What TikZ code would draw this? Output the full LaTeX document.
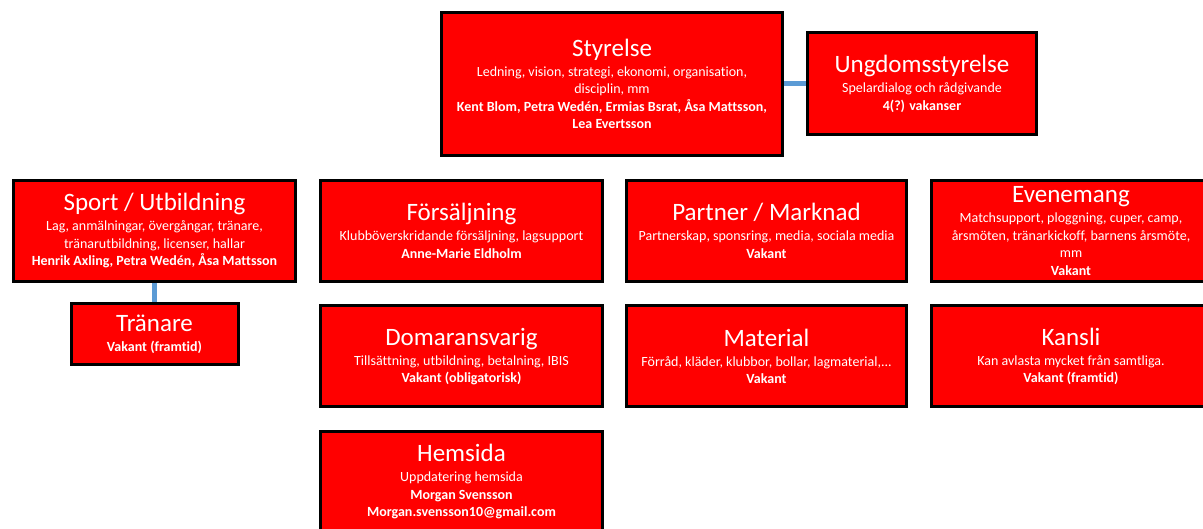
\documentclass[tikz,border=0pt]{standalone}
\usepackage{fontspec}
\setmainfont{Carlito}[Ligatures=NoCommon]
\usepackage{tikz}

\definecolor{boxred}{RGB}{255,0,0}
\definecolor{linkblue}{RGB}{91,155,213}
\newcommand{\rubrik}[1]{{\fontsize{25}{28}\selectfont #1}\\[2.5pt]}

\begin{document}
\begin{tikzpicture}[x=1pt, y=-1pt, every node/.style={rectangle, fill=boxred, draw=black, line width=3pt, text=white, align=center, inner sep=0pt, font=\fontsize{14}{17.5}\selectfont}]
	\tikzset{link/.style={draw=linkblue, line width=5pt}}
	\useasboundingbox (0,0) rectangle (1203,529);
	\node[minimum width=341pt, minimum height=143pt] (styrelse) at (612,84) {\rubrik{Styrelse}Ledning, vision, strategi, ekonomi, organisation,\\disciplin, mm\\\textbf{Kent Blom, Petra Wedén, Ermias Bsrat, Åsa Mattsson,}\\\textbf{Lea Evertsson}};
	\node[minimum width=229pt, minimum height=102pt] (ungdom) at (922,84) {\rubrik{Ungdomsstyrelse}Spelardialog och rådgivande\\\textbf{4(?) vakanser}};
	\node[minimum width=282pt, minimum height=101pt] (sport) at (154.5,231) {\rubrik{Sport / Utbildning}Lag, anmälningar, övergångar, tränare,\\tränarutbildning, licenser, hallar\\\textbf{Henrik Axling, Petra Wedén, Åsa Mattsson}};
	\node[minimum width=167pt, minimum height=61pt] (tranare) at (154.5,334.5) {\rubrik{Tränare}\textbf{Vakant (framtid)}};
	\node[minimum width=282pt, minimum height=101pt] (forsaljning) at (461.5,231) {\rubrik{Försäljning}Klubböverskridande försäljning, lagsupport\\\textbf{Anne-Marie Eldholm}};
	\node[minimum width=282pt, minimum height=101pt] (domare) at (461.5,356.5) {\rubrik{Domaransvarig}Tillsättning, utbildning, betalning, IBIS\\\textbf{Vakant (obligatorisk)}};
	\node[minimum width=282pt, minimum height=101pt] (hemsida) at (461.5,482) {\rubrik{Hemsida}Uppdatering hemsida\\\textbf{Morgan Svensson}\\\textbf{Morgan.svensson10@gmail.com}};
	\node[minimum width=280pt, minimum height=101pt] (partner) at (766.5,231) {\rubrik{Partner / Marknad}Partnerskap, sponsring, media, sociala media\\\textbf{Vakant}};
	\node[minimum width=280pt, minimum height=101pt] (material) at (766.5,356.5) {\rubrik{Material}Förråd, kläder, klubbor, bollar, lagmaterial,...\\\textbf{Vakant}};
	\node[minimum width=280pt, minimum height=101pt] (evenemang) at (1071,231) {\rubrik{Evenemang}Matchsupport, ploggning, cuper, camp,\\årsmöten, tränarkickoff, barnens årsmöte,\\mm\\\textbf{Vakant}};
	\node[minimum width=280pt, minimum height=101pt] (kansli) at (1071,356.5) {\rubrik{Kansli}Kan avlasta mycket från samtliga.\\\textbf{Vakant (framtid)}};
	\draw[link] (styrelse.east) -- (ungdom.west);
	\draw[link] (sport.south) -- (tranare.north);
\end{tikzpicture}
\end{document}
